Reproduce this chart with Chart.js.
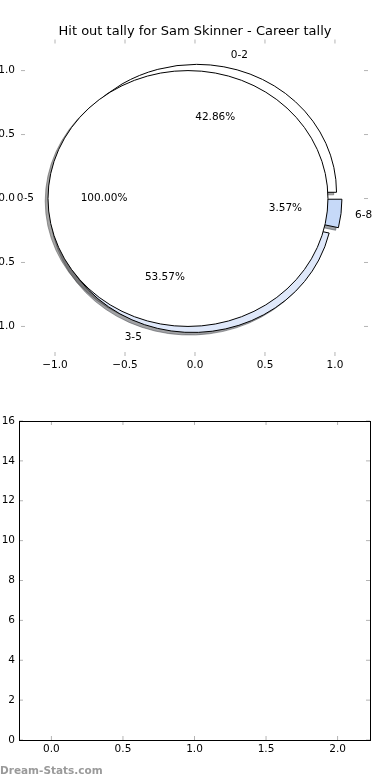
<!DOCTYPE html>
<html><head><meta charset="utf-8">
<script src="https://cdn.jsdelivr.net/npm/chart.js@4.4.1/dist/chart.umd.min.js"></script>
<style>
html,body{margin:0;padding:0;background:#fff;width:390px;height:780px;overflow:hidden;position:relative}
#c1{position:absolute;left:0;top:0}
#c2{position:absolute;left:0;top:390px}
#wm{position:absolute;left:0;top:764px;font:bold 10.5px 'DejaVu Sans',sans-serif;color:#9a9a9a;white-space:nowrap}
</style></head><body>
<canvas id="c1" width="390" height="390"></canvas>
<canvas id="c2" width="390" height="390"></canvas>
<div id="wm">Dream-Stats.com</div>
<script>
// ---- data ----
const chartTitle = 'Hit out tally for Sam Skinner - Career tally';
const outerCategories = ['0-5'];
const outerValues = [28];
const innerCategories = ['0-2', '3-5', '6-8'];
const innerValues = [12, 15, 1];
const pieXTickValues = [-1.0, -0.5, 0.0, 0.5, 1.0];
const pieYTickValues = [-1.0, -0.5, 0.0, 0.5, 1.0];
const emptyXTickValues = [0.0, 0.5, 1.0, 1.5, 2.0];
const emptyYTickValues = [0, 2, 4, 6, 8, 10, 12, 14, 16];

// ---- styles ----
const innerColors = ['#ffffff', '#dfe8fa', '#c6d9f8'];
const outerColors = ['#ffffff'];
const FONT = "'DejaVu Sans', 'Liberation Sans', sans-serif";
Chart.defaults.font.family = FONT;
Chart.defaults.color = '#000';
Chart.defaults.animation = false;

const fmt1 = v => (v < 0 ? '\u2212' : '') + Math.abs(v).toFixed(1);
const setTicks = arr => (scale) => { scale.ticks = arr.map(v => ({ value: v })); };

function buildPie(values, labels, colors, explode) {
  const total = values.reduce((a, b) => a + b, 0);
  let t1 = 0;
  return values.map((v, i) => {
    const frac = v / total;
    const t2 = t1 + frac;
    const tm = Math.PI * (t1 + t2);
    const w = {
      cx: explode * Math.cos(tm), cy: explode * Math.sin(tm),
      a1: 2 * Math.PI * t1, a2: 2 * Math.PI * t2, tm,
      full: Math.abs(frac - 1) < 1e-9,
      color: colors[i % colors.length], label: labels[i],
      pct: (frac * 100).toFixed(2) + '%'
    };
    t1 = t2;
    return w;
  });
}

function hexToRgb(h) {
  const n = parseInt(h.slice(1), 16);
  return [(n >> 16) & 255, (n >> 8) & 255, n & 255];
}

const piePlugin = {
  id: 'pies',
  afterDatasetsDraw(chart) {
    const { ctx, scales: { x: xs, y: ys } } = chart;
    const ux = xs.getPixelForValue(1) - xs.getPixelForValue(0);
    const uy = ys.getPixelForValue(0) - ys.getPixelForValue(1);
    const pies = [
      buildPie(innerValues, innerCategories, innerColors, 0.05),
      buildPie(outerValues, outerCategories, outerColors, 0.05)
    ];
    const path = (w, dx, dy) => {
      const X0 = xs.getPixelForValue(w.cx + dx), Y0 = ys.getPixelForValue(w.cy + dy);
      ctx.beginPath();
      if (w.full) {
        ctx.ellipse(X0, Y0, ux, uy, 0, 0, 2 * Math.PI);
      } else {
        ctx.moveTo(X0, Y0);
        ctx.ellipse(X0, Y0, ux, uy, 0, -w.a1, -w.a2, true);
        ctx.closePath();
      }
    };
    ctx.save();
    ctx.lineWidth = 1;
    ctx.lineJoin = 'miter';
    // shadows (below all wedges)
    pies.forEach(p => p.forEach(w => {
      const [r, g, b] = hexToRgb(w.color).map(c => Math.round(c * 0.3));
      const col = `rgba(${r},${g},${b},0.5)`;
      path(w, -0.02, -0.02);
      ctx.fillStyle = col; ctx.fill();
      ctx.strokeStyle = col; ctx.stroke();
    }));
    // wedges
    pies.forEach(p => p.forEach(w => {
      path(w, 0, 0);
      ctx.fillStyle = w.color; ctx.fill();
      ctx.strokeStyle = '#000'; ctx.stroke();
    }));
    // texts
    ctx.fillStyle = '#000';
    ctx.font = '10.5px ' + FONT;
    ctx.textBaseline = 'middle';
    pies.forEach(p => p.forEach(w => {
      const lx = w.cx + 1.1 * Math.cos(w.tm), ly = w.cy + 1.1 * Math.sin(w.tm);
      ctx.textAlign = lx > 0 ? 'left' : 'right';
      ctx.fillText(w.label, xs.getPixelForValue(lx), ys.getPixelForValue(ly));
      const px = w.cx + 0.6 * Math.cos(w.tm), py = w.cy + 0.6 * Math.sin(w.tm);
      ctx.textAlign = 'center';
      ctx.fillText(w.pct, xs.getPixelForValue(px), ys.getPixelForValue(py));
    }));
    ctx.restore();
  }
};

const tickMarks = {
  id: 'tickMarks',
  afterDraw(chart, args, opts) {
    const { ctx, chartArea: a, scales: { x, y } } = chart;
    ctx.save();
    ctx.strokeStyle = '#b4b4b4';
    ctx.lineWidth = 1;
    const L = 4;
    const seg = (x1, y1, x2, y2) => { ctx.beginPath(); ctx.moveTo(x1, y1); ctx.lineTo(x2, y2); ctx.stroke(); };
    x.ticks.forEach(t => {
      const p = x.getPixelForValue(t.value);
      seg(p, a.top, p, a.top + L);
      seg(p, a.bottom, p, a.bottom - L);
    });
    y.ticks.forEach(t => {
      const p = y.getPixelForValue(t.value);
      seg(a.left, p, a.left + L, p);
      seg(a.right, p, a.right - L, p);
    });
    if (opts.frame) {
      ctx.strokeStyle = '#000';
      ctx.strokeRect(a.left + 0.5, a.top + 0.5, a.right - a.left, a.bottom - a.top);
    }
    ctx.restore();
  }
};

const tickFont = { size: 10.5 };
const noGrid = { display: false, drawTicks: false };
const spacer = w => ({
  type: 'linear', position: 'right', min: 0, max: 1,
  afterFit: s => { s.width = w; },
  grid: noGrid, border: { display: false }, ticks: { display: false }
});

new Chart(document.getElementById('c1'), {
  type: 'scatter',
  data: { datasets: [] },
  plugins: [piePlugin, tickMarks],
  options: {
    responsive: false,
    layout: { padding: 0 },
    plugins: {
      legend: { display: false },
      tooltip: { enabled: false },
      title: { display: true, text: chartTitle, font: { size: 13, weight: 'normal', lineHeight: 1.0 }, color: '#000', padding: { top: 25, bottom: 1.5 } },
      tickMarks: { frame: false }
    },
    scales: {
      x: {
        type: 'linear', min: -1.243, max: 1.236,
        afterBuildTicks: setTicks(pieXTickValues),
        afterFit: s => { s.height = 34; },
        grid: noGrid, border: { display: false },
        ticks: { font: tickFont, padding: 3, maxRotation: 0, callback: fmt1 }
      },
      y: {
        type: 'linear', min: -1.231, max: 1.243,
        afterBuildTicks: setTicks(pieYTickValues),
        afterFit: s => { s.width = 21; },
        grid: noGrid, border: { display: false },
        ticks: { font: tickFont, padding: 6, callback: fmt1 }
      },
      yRightSpace: spacer(22)
    }
  }
});

new Chart(document.getElementById('c2'), {
  type: 'scatter',
  data: { datasets: [] },
  plugins: [tickMarks],
  options: {
    responsive: false,
    layout: { padding: { left: 0, right: 0, top: 31, bottom: 0 } },
    plugins: {
      legend: { display: false },
      tooltip: { enabled: false },
      title: { display: false },
      tickMarks: { frame: true }
    },
    scales: {
      x: {
        type: 'linear', min: -0.2266, max: 2.2266,
        afterBuildTicks: setTicks(emptyXTickValues),
        afterFit: s => { s.height = 40; },
        grid: noGrid, border: { display: false },
        ticks: { font: tickFont, padding: 3, maxRotation: 0, callback: v => v.toFixed(1) }
      },
      y: {
        type: 'linear', min: 0, max: 16,
        afterBuildTicks: setTicks(emptyYTickValues),
        afterFit: s => { s.width = 19; },
        grid: noGrid, border: { display: false },
        ticks: { font: tickFont, padding: 4, callback: v => String(v) }
      },
      yRightSpace: spacer(20)
    }
  }
});
</script>
</body></html>
